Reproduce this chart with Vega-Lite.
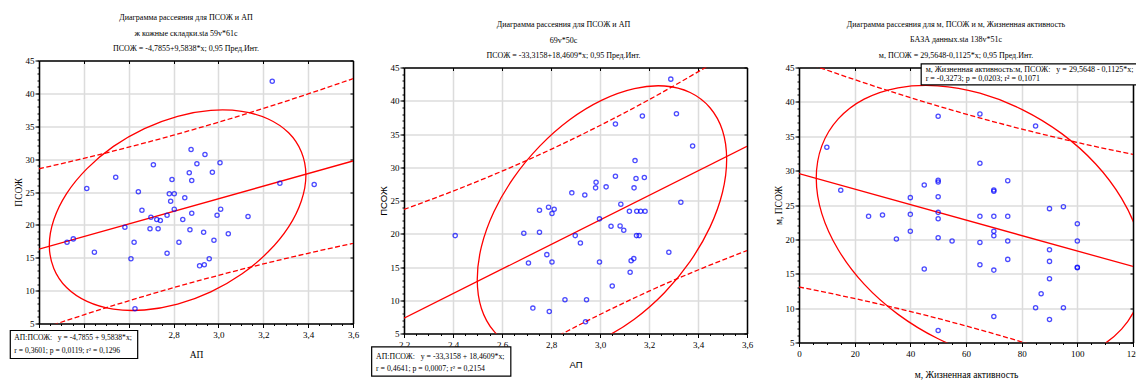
{
"$schema": "https://vega.github.io/schema/vega-lite/v6.json",
"padding": {"left": 9, "top": 13.5, "right": 0, "bottom": 0},
"background": "white",
"config": {
 "view": {"stroke": null},
 "font": "Liberation Serif",
 "axis": {"labelFont": "Liberation Serif", "labelFontSize": 9, "labelColor": "#000", "titleFont": "Liberation Serif", "titleFontSize": 9.5, "titleFontWeight": "normal", "titleColor": "#000", "domainColor": "#000", "domainWidth": 1.5, "tickColor": "#000", "tickWidth": 1, "gridColor": "#dcdcdc", "gridWidth": 1.5, "labelFlush": false, "labelOverlap": false},
 "title": {"font": "Liberation Serif", "fontSize": 8, "fontWeight": "normal", "color": "#000", "lineHeight": 15.5, "offset": 3.5, "anchor": "middle"}
},
"datasets": {
 "p1pts": [{"x":3.240,"y":41.85},{"x":2.878,"y":31.46},{"x":2.940,"y":30.70},{"x":2.710,"y":29.14},{"x":2.904,"y":29.29},{"x":3.007,"y":29.44},{"x":2.542,"y":27.25},{"x":2.870,"y":27.92},{"x":2.973,"y":28.01},{"x":2.793,"y":26.90},{"x":2.881,"y":26.75},{"x":3.274,"y":26.34},{"x":3.427,"y":26.14},{"x":2.413,"y":25.53},{"x":2.643,"y":25.03},{"x":2.781,"y":24.73},{"x":2.803,"y":24.73},{"x":2.850,"y":24.12},{"x":2.787,"y":23.60},{"x":2.659,"y":22.23},{"x":2.803,"y":22.39},{"x":3.010,"y":22.39},{"x":2.881,"y":21.78},{"x":2.771,"y":21.47},{"x":2.994,"y":21.47},{"x":3.132,"y":21.27},{"x":2.699,"y":21.17},{"x":2.725,"y":20.82},{"x":2.741,"y":20.67},{"x":2.841,"y":20.82},{"x":2.583,"y":19.65},{"x":2.695,"y":19.40},{"x":2.731,"y":19.40},{"x":2.873,"y":19.25},{"x":2.934,"y":18.89},{"x":3.044,"y":18.64},{"x":2.980,"y":17.67},{"x":2.325,"y":17.37},{"x":2.353,"y":17.87},{"x":2.624,"y":17.37},{"x":2.824,"y":17.37},{"x":2.447,"y":15.85},{"x":2.771,"y":15.69},{"x":2.610,"y":14.84},{"x":2.959,"y":14.84},{"x":2.916,"y":13.77},{"x":2.937,"y":13.93},{"x":2.628,"y":7.24}],
 "p1reg": [{"x":2.2,"y":16.30},{"x":3.6,"y":29.72}],
 "p1pi": [{"x":2.2,"up":28.53,"lo":4.07},{"x":2.4,"up":30.11,"lo":6.32},{"x":2.6,"up":31.82,"lo":8.45},{"x":2.8,"up":33.65,"lo":10.45},{"x":3.0,"up":35.61,"lo":12.32},{"x":3.2,"up":37.70,"lo":14.06},{"x":3.4,"up":39.92,"lo":15.68},{"x":3.6,"up":42.24,"lo":17.19}],
 "p1ell": [{"i":0,"x":3.390,"y":27.56},{"i":1,"x":3.370,"y":31.08},{"i":2,"x":3.313,"y":34.00},{"i":3,"x":3.222,"y":36.10},{"i":4,"x":3.104,"y":37.27},{"i":5,"x":2.966,"y":37.41},{"i":6,"x":2.818,"y":36.52},{"i":7,"x":2.670,"y":34.65},{"i":8,"x":2.532,"y":31.94},{"i":9,"x":2.414,"y":28.56},{"i":10,"x":2.323,"y":24.76},{"i":11,"x":2.266,"y":20.78},{"i":12,"x":2.246,"y":16.90},{"i":13,"x":2.266,"y":13.38},{"i":14,"x":2.323,"y":10.47},{"i":15,"x":2.414,"y":8.36},{"i":16,"x":2.532,"y":7.18},{"i":17,"x":2.670,"y":7.05},{"i":18,"x":2.818,"y":7.94},{"i":19,"x":2.966,"y":9.81},{"i":20,"x":3.104,"y":12.52},{"i":21,"x":3.222,"y":15.90},{"i":22,"x":3.313,"y":19.70},{"i":23,"x":3.370,"y":23.68}],
 "p2pts": [{"x":3.289,"y":43.25},{"x":3.312,"y":38.05},{"x":3.173,"y":37.70},{"x":3.063,"y":36.50},{"x":3.378,"y":33.20},{"x":3.143,"y":31.00},{"x":3.063,"y":28.65},{"x":3.147,"y":28.30},{"x":3.181,"y":28.45},{"x":2.984,"y":27.75},{"x":2.982,"y":26.90},{"x":3.025,"y":27.05},{"x":3.139,"y":26.90},{"x":2.885,"y":26.15},{"x":2.938,"y":25.82},{"x":3.330,"y":24.75},{"x":3.085,"y":24.45},{"x":2.790,"y":24.00},{"x":2.753,"y":23.54},{"x":2.813,"y":23.69},{"x":2.804,"y":23.04},{"x":3.120,"y":23.39},{"x":3.150,"y":23.39},{"x":3.166,"y":23.39},{"x":3.184,"y":23.39},{"x":2.998,"y":22.24},{"x":2.409,"y":19.72},{"x":2.689,"y":20.08},{"x":2.753,"y":20.23},{"x":3.045,"y":21.13},{"x":3.082,"y":21.18},{"x":3.097,"y":20.53},{"x":2.899,"y":19.72},{"x":3.149,"y":19.72},{"x":3.160,"y":19.72},{"x":2.920,"y":18.62},{"x":3.281,"y":17.21},{"x":2.783,"y":16.86},{"x":2.708,"y":15.60},{"x":2.804,"y":15.75},{"x":2.998,"y":15.75},{"x":3.138,"y":16.26},{"x":3.127,"y":15.95},{"x":3.123,"y":14.20},{"x":3.050,"y":12.14},{"x":2.857,"y":10.08},{"x":2.945,"y":10.08},{"x":2.726,"y":8.82},{"x":2.793,"y":8.32},{"x":2.941,"y":6.76}],
 "p2reg": [{"x":2.2,"y":7.30},{"x":3.6,"y":33.14}],
 "p2pi": [{"x":2.2,"up":23.65,"lo":-9.05},{"x":2.4,"up":26.41,"lo":-4.43},{"x":2.6,"up":29.41,"lo":-0.04},{"x":2.8,"up":32.69,"lo":4.06},{"x":3.0,"up":36.28,"lo":7.86},{"x":3.2,"up":40.16,"lo":11.36},{"x":3.4,"up":44.35,"lo":14.55},{"x":3.6,"up":48.81,"lo":17.47}],
 "p2ell": [{"i":0,"x":3.517,"y":31.19},{"i":1,"x":3.500,"y":35.53},{"i":2,"x":3.449,"y":38.95},{"i":3,"x":3.368,"y":41.24},{"i":4,"x":3.263,"y":42.22},{"i":5,"x":3.140,"y":41.83},{"i":6,"x":3.008,"y":40.10},{"i":7,"x":2.876,"y":37.15},{"i":8,"x":2.754,"y":33.18},{"i":9,"x":2.648,"y":28.45},{"i":10,"x":2.567,"y":23.30},{"i":11,"x":2.516,"y":18.06},{"i":12,"x":2.499,"y":13.11},{"i":13,"x":2.516,"y":8.77},{"i":14,"x":2.567,"y":5.35},{"i":15,"x":2.648,"y":3.07},{"i":16,"x":2.754,"y":2.09},{"i":17,"x":2.876,"y":2.47},{"i":18,"x":3.008,"y":4.20},{"i":19,"x":3.140,"y":7.15},{"i":20,"x":3.263,"y":11.13},{"i":21,"x":3.368,"y":15.85},{"i":22,"x":3.449,"y":21.00},{"i":23,"x":3.500,"y":26.24}],
 "p3pts": [{"x":10,"y":33.40},{"x":50,"y":37.91},{"x":65,"y":38.25},{"x":85,"y":36.50},{"x":65,"y":31.07},{"x":15,"y":27.14},{"x":45,"y":27.91},{"x":50,"y":28.60},{"x":50,"y":28.35},{"x":70,"y":27.18},{"x":70,"y":27.00},{"x":75,"y":28.54},{"x":40,"y":26.07},{"x":50,"y":26.20},{"x":90,"y":24.47},{"x":95,"y":24.76},{"x":25,"y":23.35},{"x":30,"y":23.54},{"x":40,"y":23.64},{"x":50,"y":23.93},{"x":50,"y":23.01},{"x":65,"y":23.35},{"x":70,"y":23.35},{"x":75,"y":23.35},{"x":100,"y":22.28},{"x":40,"y":21.17},{"x":70,"y":21.17},{"x":70,"y":20.53},{"x":35,"y":20.05},{"x":50,"y":20.24},{"x":55,"y":19.76},{"x":65,"y":19.56},{"x":75,"y":19.76},{"x":100,"y":19.76},{"x":90,"y":18.50},{"x":90,"y":16.80},{"x":75,"y":17.09},{"x":65,"y":16.31},{"x":45,"y":15.68},{"x":70,"y":15.53},{"x":100,"y":15.87},{"x":100,"y":15.95},{"x":90,"y":14.27},{"x":87,"y":12.09},{"x":85,"y":10.05},{"x":95,"y":10.05},{"x":90,"y":8.35},{"x":70,"y":8.79},{"x":50,"y":6.75}],
 "p3reg": [{"x":0,"y":29.56},{"x":120,"y":16.06}],
 "p3pi": [{"x":0,"up":46.06,"lo":13.07},{"x":15,"up":43.92,"lo":11.83},{"x":30,"up":41.90,"lo":10.48},{"x":45,"up":39.99,"lo":9.01},{"x":60,"up":38.22,"lo":7.41},{"x":75,"up":36.57,"lo":5.69},{"x":90,"up":35.05,"lo":3.83},{"x":105,"up":33.64,"lo":1.86},{"x":120,"up":32.36,"lo":-0.24}],
 "p3ell": [{"i":0,"x":123.8,"y":15.56},{"i":1,"x":121.8,"y":20.71},{"i":2,"x":115.9,"y":25.97},{"i":3,"x":106.6,"y":30.97},{"i":4,"x":94.4,"y":35.38},{"i":5,"x":80.2,"y":38.88},{"i":6,"x":65.0,"y":41.26},{"i":7,"x":49.8,"y":42.34},{"i":8,"x":35.6,"y":42.05},{"i":9,"x":23.4,"y":40.40},{"i":10,"x":14.1,"y":37.52},{"i":11,"x":8.2,"y":33.60},{"i":12,"x":6.2,"y":28.90},{"i":13,"x":8.2,"y":23.75},{"i":14,"x":14.1,"y":18.49},{"i":15,"x":23.4,"y":13.49},{"i":16,"x":35.6,"y":9.09},{"i":17,"x":49.8,"y":5.58},{"i":18,"x":65.0,"y":3.20},{"i":19,"x":80.2,"y":2.12},{"i":20,"x":94.4,"y":2.41},{"i":21,"x":106.6,"y":4.06},{"i":22,"x":115.9,"y":6.94},{"i":23,"x":121.8,"y":10.86}]
},
"bounds": "flush",
"spacing": 51,
"hconcat": [
 {
  "width": 314, "height": 263,
  "title": {"text": ["Диаграмма рассеяния для ПСОЖ и АП", "ж кожные складки.sta 59v*61c", "ПСОЖ = -4,7855+9,5838*x; 0,95 Пред.Инт."], "dx": -10},
  "resolve": {"axis": {"x": "independent", "y": "independent"}},
  "layer": [
   {"data": {"name": "p1reg"}, "mark": {"type": "line", "color": "#ff0000", "strokeWidth": 1.3, "clip": true},
    "encoding": {"x": {"field": "x", "type": "quantitative", "scale": {"domain": [2.2, 3.6], "nice": false, "zero": false}, "axis": {"orient": "bottom", "values": [2.2,2.25,2.3,2.35,2.4,2.45,2.5,2.55,2.6,2.65,2.7,2.75,2.8,2.85,2.9,2.95,3.0,3.05,3.1,3.15,3.2,3.25,3.3,3.35,3.4,3.45,3.5,3.55,3.6], "labels": false, "grid": false, "domain": false, "tickSize": 2, "title": null}},
     "y": {"field": "y", "type": "quantitative", "scale": {"domain": [5, 45], "nice": false, "zero": false}, "axis": {"orient": "left", "values": [5,6,7,8,9,10,11,12,13,14,15,16,17,18,19,20,21,22,23,24,25,26,27,28,29,30,31,32,33,34,35,36,37,38,39,40,41,42,43,44,45], "labels": false, "grid": false, "domain": false, "tickSize": 2, "title": null}}}},
   {"data": {"name": "p1pi"}, "mark": {"type": "line", "color": "#ff0000", "strokeWidth": 1.3, "strokeDash": [5, 2.5], "interpolate": "monotone", "clip": true},
    "encoding": {"x": {"field": "x", "type": "quantitative", "scale": {"domain": [2.2, 3.6], "nice": false, "zero": false}, "axis": {"orient": "top", "values": [2.2,2.4,2.6,2.8,3.0,3.2,3.4,3.6], "labels": false, "grid": false, "domain": true, "tickSize": -3, "title": null}},
     "y": {"field": "up", "type": "quantitative", "scale": {"domain": [5, 45], "nice": false, "zero": false}, "axis": {"orient": "right", "values": [5,10,15,20,25,30,35,40,45], "labels": false, "grid": false, "domain": true, "tickSize": -3, "title": null}}}},
   {"data": {"name": "p1pi"}, "mark": {"type": "line", "color": "#ff0000", "strokeWidth": 1.3, "strokeDash": [5, 2.5], "interpolate": "monotone", "clip": true},
    "encoding": {"x": {"field": "x", "type": "quantitative", "scale": {"domain": [2.2, 3.6], "nice": false, "zero": false}, "axis": null},
     "y": {"field": "lo", "type": "quantitative", "scale": {"domain": [5, 45], "nice": false, "zero": false}, "axis": null}}},
   {"data": {"name": "p1ell"}, "mark": {"type": "line", "color": "#ff0000", "strokeWidth": 1.3, "interpolate": "cardinal-closed", "clip": true},
    "encoding": {"x": {"field": "x", "type": "quantitative", "scale": {"domain": [2.2, 3.6], "nice": false, "zero": false}, "axis": null},
     "y": {"field": "y", "type": "quantitative", "scale": {"domain": [5, 45], "nice": false, "zero": false}, "axis": null},
     "order": {"field": "i", "type": "quantitative"}}},
   {"data": {"name": "p1pts"}, "mark": {"type": "point", "shape": "circle", "filled": false, "color": "#0000ff", "size": 18, "strokeWidth": 1.3},
    "encoding": {"x": {"field": "x", "type": "quantitative", "scale": {"domain": [2.2, 3.6], "nice": false, "zero": false}, "axis": {"orient": "bottom", "values": [2.2,2.4,2.6,2.8,3.0,3.2,3.4,3.6], "labelExpr": "replace(format(datum.value, '.1f'), '.', ',')", "title": "АП", "grid": true, "tickSize": 4, "labelPadding": 3, "titlePadding": 10}},
     "y": {"field": "y", "type": "quantitative", "scale": {"domain": [5, 45], "nice": false, "zero": false}, "axis": {"orient": "left", "values": [5,10,15,20,25,30,35,40,45], "format": "d", "title": "ПСОЖ", "grid": true, "tickSize": 4, "labelPadding": 1, "titlePadding": 2}}}},
   {"data": {"values": [{}]}, "mark": {"type": "rect", "fill": "#ffffff", "stroke": "#000000", "strokeWidth": 1.2, "clip": false},
    "encoding": {"x": {"datum": 2.072, "type": "quantitative", "scale": {"domain": [2.2, 3.6], "nice": false, "zero": false}, "axis": null}, "x2": {"datum": 2.640},
     "y": {"datum": 3.935, "type": "quantitative", "scale": {"domain": [5, 45], "nice": false, "zero": false}, "axis": null}, "y2": {"datum": -0.323}}},
   {"data": {"values": [{}]}, "mark": {"type": "text", "align": "left", "baseline": "middle", "font": "Liberation Serif", "fontSize": 7.6, "lineHeight": 13.3, "color": "#000", "clip": false},
    "encoding": {"x": {"datum": 2.090, "type": "quantitative", "scale": {"domain": [2.2, 3.6], "nice": false, "zero": false}, "axis": null},
     "y": {"datum": 2.764, "type": "quantitative", "scale": {"domain": [5, 45], "nice": false, "zero": false}, "axis": null},
     "text": {"value": ["АП:ПСОЖ:\u00a0\u00a0\u00a0y = -4,7855 + 9,5838*x;", "r = 0,3601; p = 0,0119; r² = 0,1296"]}}}
  ]
 },
 {
  "bounds": "flush",
  "spacing": 6,
  "vconcat": [
   {"width": 1, "height": 1, "data": {"values": [{}]}, "mark": {"type": "text"}, "encoding": {"text": {"value": ""}}},
   {
    "bounds": "flush",
    "spacing": 52,
    "hconcat": [
     {
      "width": 343, "height": 266,
      "title": {"text": ["Диаграмма рассеяния для ПСОЖ и АП", "69v*50c", "ПСОЖ = -33,3158+18,4609*x; 0,95 Пред.Инт."], "dx": -12},
      "resolve": {"axis": {"x": "independent", "y": "independent"}},
      "layer": [
       {"data": {"name": "p2reg"}, "mark": {"type": "line", "color": "#ff0000", "strokeWidth": 1.3, "clip": true},
        "encoding": {"x": {"field": "x", "type": "quantitative", "scale": {"domain": [2.2, 3.6], "nice": false, "zero": false}, "axis": {"orient": "bottom", "values": [2.2,2.25,2.3,2.35,2.4,2.45,2.5,2.55,2.6,2.65,2.7,2.75,2.8,2.85,2.9,2.95,3.0,3.05,3.1,3.15,3.2,3.25,3.3,3.35,3.4,3.45,3.5,3.55,3.6], "labels": false, "grid": false, "domain": false, "tickSize": 2, "title": null}},
         "y": {"field": "y", "type": "quantitative", "scale": {"domain": [5, 45], "nice": false, "zero": false}, "axis": {"orient": "left", "values": [5,6,7,8,9,10,11,12,13,14,15,16,17,18,19,20,21,22,23,24,25,26,27,28,29,30,31,32,33,34,35,36,37,38,39,40,41,42,43,44,45], "labels": false, "grid": false, "domain": false, "tickSize": 2, "title": null}}}},
       {"data": {"name": "p2pi"}, "mark": {"type": "line", "color": "#ff0000", "strokeWidth": 1.3, "strokeDash": [5, 2.5], "interpolate": "monotone", "clip": true},
        "encoding": {"x": {"field": "x", "type": "quantitative", "scale": {"domain": [2.2, 3.6], "nice": false, "zero": false}, "axis": {"orient": "top", "values": [2.2,2.4,2.6,2.8,3.0,3.2,3.4,3.6], "labels": false, "grid": false, "domain": true, "tickSize": -3, "title": null}},
         "y": {"field": "up", "type": "quantitative", "scale": {"domain": [5, 45], "nice": false, "zero": false}, "axis": {"orient": "right", "values": [5,10,15,20,25,30,35,40,45], "labels": false, "grid": false, "domain": true, "tickSize": -3, "title": null}}}},
       {"data": {"name": "p2pi"}, "mark": {"type": "line", "color": "#ff0000", "strokeWidth": 1.3, "strokeDash": [5, 2.5], "interpolate": "monotone", "clip": true},
        "encoding": {"x": {"field": "x", "type": "quantitative", "scale": {"domain": [2.2, 3.6], "nice": false, "zero": false}, "axis": null},
         "y": {"field": "lo", "type": "quantitative", "scale": {"domain": [5, 45], "nice": false, "zero": false}, "axis": null}}},
       {"data": {"name": "p2ell"}, "mark": {"type": "line", "color": "#ff0000", "strokeWidth": 1.3, "interpolate": "cardinal-closed", "clip": true},
        "encoding": {"x": {"field": "x", "type": "quantitative", "scale": {"domain": [2.2, 3.6], "nice": false, "zero": false}, "axis": null},
         "y": {"field": "y", "type": "quantitative", "scale": {"domain": [5, 45], "nice": false, "zero": false}, "axis": null},
         "order": {"field": "i", "type": "quantitative"}}},
       {"data": {"name": "p2pts"}, "mark": {"type": "point", "shape": "circle", "filled": false, "color": "#0000ff", "size": 18, "strokeWidth": 1.3},
        "encoding": {"x": {"field": "x", "type": "quantitative", "scale": {"domain": [2.2, 3.6], "nice": false, "zero": false}, "axis": {"orient": "bottom", "values": [2.2,2.4,2.6,2.8,3.0,3.2,3.4,3.6], "labelExpr": "replace(format(datum.value, '.1f'), '.', ',')", "title": "АП", "titleFont": "Liberation Sans", "grid": true, "tickSize": 4, "labelPadding": 3, "titlePadding": 10}},
         "y": {"field": "y", "type": "quantitative", "scale": {"domain": [5, 45], "nice": false, "zero": false}, "axis": {"orient": "left", "values": [5,10,15,20,25,30,35,40,45], "format": "d", "title": "ПСОЖ", "titleFont": "Liberation Sans", "grid": true, "tickSize": 4, "labelPadding": 1, "titlePadding": 2}}}},
       {"data": {"values": [{}]}, "mark": {"type": "rect", "fill": "#ffffff", "stroke": "#000000", "strokeWidth": 1.2, "clip": false},
        "encoding": {"x": {"datum": 2.068, "type": "quantitative", "scale": {"domain": [2.2, 3.6], "nice": false, "zero": false}, "axis": null}, "x2": {"datum": 2.636},
         "y": {"datum": 2.99, "type": "quantitative", "scale": {"domain": [5, 45], "nice": false, "zero": false}, "axis": null}, "y2": {"datum": -1.41}}},
       {"data": {"values": [{}]}, "mark": {"type": "text", "align": "left", "baseline": "middle", "font": "Liberation Serif", "fontSize": 7.8, "lineHeight": 12, "color": "#000", "clip": false},
        "encoding": {"x": {"datum": 2.086, "type": "quantitative", "scale": {"domain": [2.2, 3.6], "nice": false, "zero": false}, "axis": null},
         "y": {"datum": 1.399, "type": "quantitative", "scale": {"domain": [5, 45], "nice": false, "zero": false}, "axis": null},
         "text": {"value": ["АП:ПСОЖ:\u00a0\u00a0\u00a0y = -33,3158 + 18,4609*x;", "r = 0,4641; p = 0,0007; r² = 0,2154"]}}}
      ]
     },
     {
      "width": 334, "height": 275,
      "title": {"text": ["Диаграмма рассеяния для м, ПСОЖ и м, Жизненная активность", "БАЗА данных.sta 138v*51c", "м, ПСОЖ = 29,5648-0,1125*x; 0,95 Пред.Инт."], "dx": -10},
      "resolve": {"axis": {"x": "independent", "y": "independent"}},
      "layer": [
       {"data": {"name": "p3reg"}, "mark": {"type": "line", "color": "#ff0000", "strokeWidth": 1.3, "clip": true},
        "encoding": {"x": {"field": "x", "type": "quantitative", "scale": {"domain": [0, 120], "nice": false, "zero": false}, "axis": {"orient": "bottom", "values": [0,5,10,15,20,25,30,35,40,45,50,55,60,65,70,75,80,85,90,95,100,105,110,115,120], "labels": false, "grid": false, "domain": false, "tickSize": 2, "title": null}},
         "y": {"field": "y", "type": "quantitative", "scale": {"domain": [5, 45], "nice": false, "zero": false}, "axis": {"orient": "left", "values": [5,6,7,8,9,10,11,12,13,14,15,16,17,18,19,20,21,22,23,24,25,26,27,28,29,30,31,32,33,34,35,36,37,38,39,40,41,42,43,44,45], "labels": false, "grid": false, "domain": false, "tickSize": 2, "title": null}}}},
       {"data": {"name": "p3pi"}, "mark": {"type": "line", "color": "#ff0000", "strokeWidth": 1.3, "strokeDash": [5, 2.5], "interpolate": "monotone", "clip": true},
        "encoding": {"x": {"field": "x", "type": "quantitative", "scale": {"domain": [0, 120], "nice": false, "zero": false}, "axis": {"orient": "top", "values": [0,20,40,60,80,100,120], "labels": false, "grid": false, "domain": true, "tickSize": -3, "title": null}},
         "y": {"field": "up", "type": "quantitative", "scale": {"domain": [5, 45], "nice": false, "zero": false}, "axis": {"orient": "right", "values": [5,10,15,20,25,30,35,40,45], "labels": false, "grid": false, "domain": true, "tickSize": -3, "title": null}}}},
       {"data": {"name": "p3pi"}, "mark": {"type": "line", "color": "#ff0000", "strokeWidth": 1.3, "strokeDash": [5, 2.5], "interpolate": "monotone", "clip": true},
        "encoding": {"x": {"field": "x", "type": "quantitative", "scale": {"domain": [0, 120], "nice": false, "zero": false}, "axis": null},
         "y": {"field": "lo", "type": "quantitative", "scale": {"domain": [5, 45], "nice": false, "zero": false}, "axis": null}}},
       {"data": {"name": "p3ell"}, "mark": {"type": "line", "color": "#ff0000", "strokeWidth": 1.3, "interpolate": "cardinal-closed", "clip": true},
        "encoding": {"x": {"field": "x", "type": "quantitative", "scale": {"domain": [0, 120], "nice": false, "zero": false}, "axis": null},
         "y": {"field": "y", "type": "quantitative", "scale": {"domain": [5, 45], "nice": false, "zero": false}, "axis": null},
         "order": {"field": "i", "type": "quantitative"}}},
       {"data": {"name": "p3pts"}, "mark": {"type": "point", "shape": "circle", "filled": false, "color": "#0000ff", "size": 18, "strokeWidth": 1.3},
        "encoding": {"x": {"field": "x", "type": "quantitative", "scale": {"domain": [0, 120], "nice": false, "zero": false}, "axis": {"orient": "bottom", "values": [0,20,40,60,80,100,120], "format": "d", "title": "м, Жизненная активность", "grid": true, "tickSize": 4, "labelPadding": 3, "titlePadding": 11}},
         "y": {"field": "y", "type": "quantitative", "scale": {"domain": [5, 45], "nice": false, "zero": false}, "axis": {"orient": "left", "values": [5,10,15,20,25,30,35,40,45], "format": "d", "title": "м, ПСОЖ", "grid": true, "tickSize": 4, "labelPadding": 1, "titlePadding": 2}}}},
       {"data": {"values": [{}]}, "mark": {"type": "rect", "fill": "#ffffff", "stroke": "#000000", "strokeWidth": 1.2, "clip": false},
        "encoding": {"x": {"datum": 43.9, "type": "quantitative", "scale": {"domain": [0, 120], "nice": false, "zero": false}, "axis": null}, "x2": {"datum": 126.5},
         "y": {"datum": 45.53, "type": "quantitative", "scale": {"domain": [5, 45], "nice": false, "zero": false}, "axis": null}, "y2": {"datum": 42.47}}},
       {"data": {"values": [{}]}, "mark": {"type": "text", "align": "left", "baseline": "middle", "font": "Liberation Serif", "fontSize": 8, "lineHeight": 9.3, "color": "#000", "clip": false},
        "encoding": {"x": {"datum": 45.5, "type": "quantitative", "scale": {"domain": [0, 120], "nice": false, "zero": false}, "axis": null},
         "y": {"datum": 44.65, "type": "quantitative", "scale": {"domain": [5, 45], "nice": false, "zero": false}, "axis": null},
         "text": {"value": ["м, Жизненная активность:м, ПСОЖ:\u00a0\u00a0\u00a0y = 29,5648 - 0,1125*x;", "r = -0,3273; p = 0,0203; r² = 0,1071"]}}}
      ]
     }
    ]
   }
  ]
 }
]
}
